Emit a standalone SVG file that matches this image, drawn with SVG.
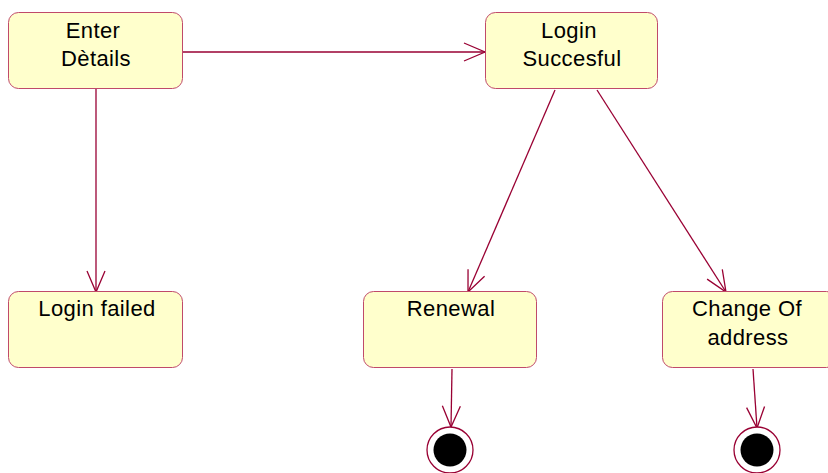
<svg xmlns="http://www.w3.org/2000/svg" width="828" height="473" viewBox="0 0 828 473">
<style>
.st{fill:#ffffcc;stroke:#c04a6a;stroke-width:1}
.t{font-family:"Liberation Sans",Arial,sans-serif;font-size:22px;letter-spacing:0.4px;fill:#000;text-anchor:middle}
.c{stroke:#990033;stroke-width:1.3;fill:none}
.fo{fill:#fff;stroke:#990033;stroke-width:1.3}
</style>
<defs>
<marker id="a" viewBox="-22 -10 24 20" refX="0" refY="0" markerWidth="24" markerHeight="20" markerUnits="userSpaceOnUse" orient="auto">
<path d="M-21,-9 L0,0 L-21,9" fill="none" stroke="#990033" stroke-width="1.3"/>
</marker>
</defs>
<rect width="828" height="473" fill="#fff"/>
<g id="connectors">
<line class="c" x1="182" y1="52" x2="485" y2="52" marker-end="url(#a)"/>
<line class="c" x1="96" y1="89" x2="96" y2="292" marker-end="url(#a)"/>
<line class="c" x1="555" y1="90" x2="468" y2="292" marker-end="url(#a)"/>
<line class="c" x1="597" y1="90" x2="726" y2="292" marker-end="url(#a)"/>
<line class="c" x1="452" y1="369" x2="451" y2="427" marker-end="url(#a)"/>
<line class="c" x1="753" y1="369" x2="757" y2="428" marker-end="url(#a)"/>
</g>
<g id="enter-details">
<rect class="st" x="8.5" y="12.5" width="174" height="76" rx="10"/>
<text class="t" x="93" y="38">Enter</text>
<text class="t" x="96" y="66">Dètails</text>
</g>
<g id="login-succesful">
<rect class="st" x="485.5" y="12.5" width="172" height="76" rx="10"/>
<text class="t" x="569" y="38">Login</text>
<text class="t" x="572" y="66">Succesful</text>
</g>
<g id="login-failed">
<rect class="st" x="8.5" y="291.5" width="174" height="76" rx="10"/>
<text class="t" x="97" y="316">Login failed</text>
</g>
<g id="renewal">
<rect class="st" x="363.5" y="291.5" width="173" height="76" rx="10"/>
<text class="t" x="451" y="316">Renewal</text>
</g>
<g id="change-of-address">
<rect class="st" x="662.5" y="291.5" width="174" height="76" rx="10"/>
<text class="t" x="747" y="316">Change Of</text>
<text class="t" x="748" y="345">address</text>
</g>
<g id="final-renewal">
<circle class="fo" cx="450" cy="450" r="23"/>
<circle cx="450" cy="450" r="16.5" fill="#000"/>
</g>
<g id="final-change">
<circle class="fo" cx="757" cy="450" r="23"/>
<circle cx="757" cy="450" r="16.5" fill="#000"/>
</g>
</svg>
